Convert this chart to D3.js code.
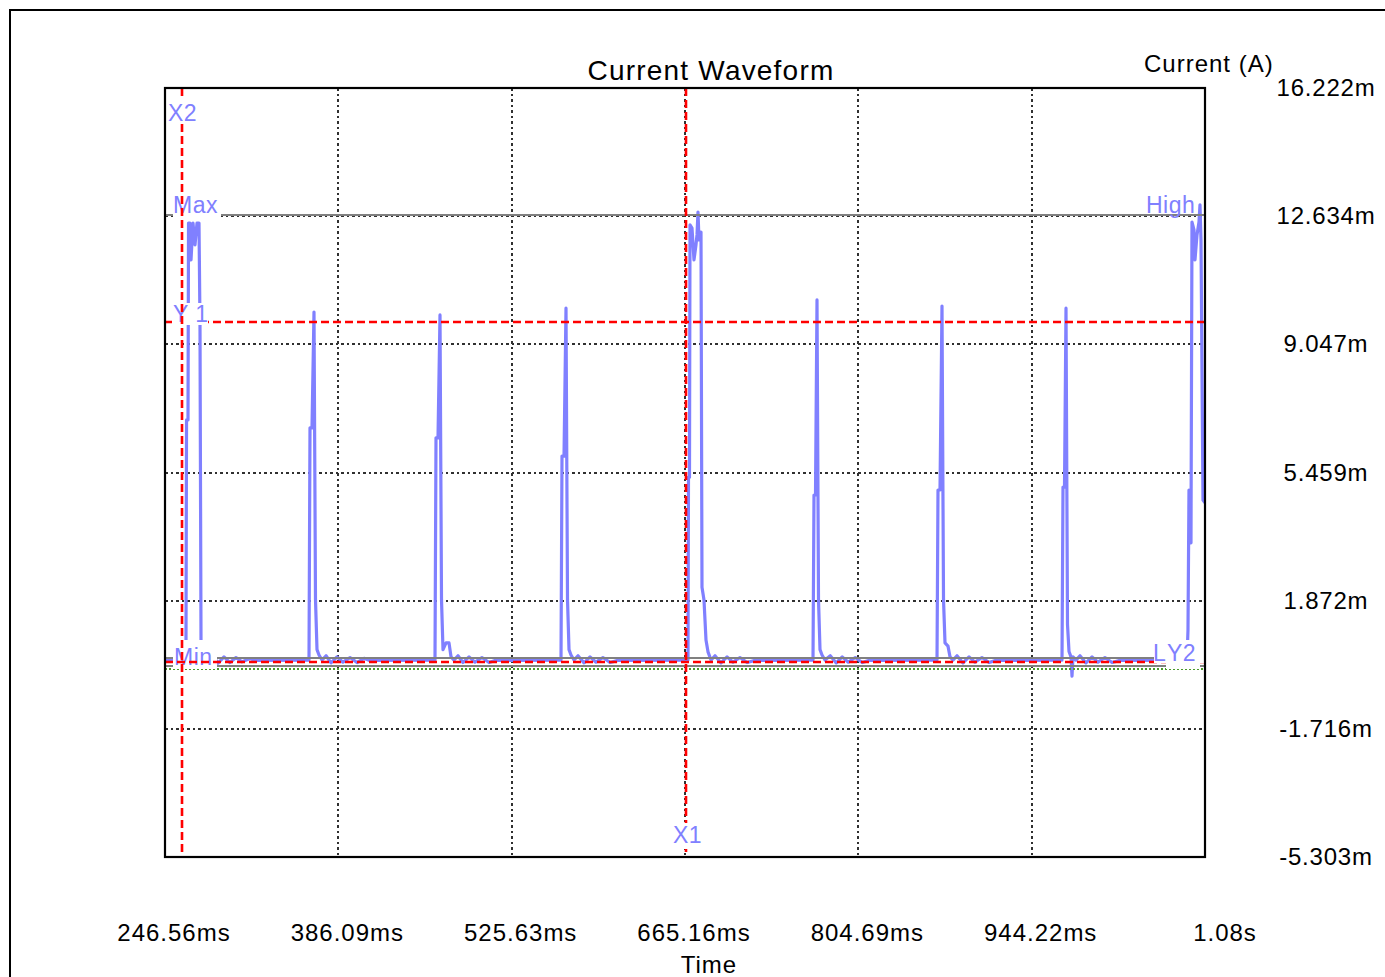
<!DOCTYPE html>
<html>
<head>
<meta charset="utf-8">
<script src="https://cdn.jsdelivr.net/npm/d3@7"></script>
<style>
  body { margin: 0; background: #fff; }
  svg { display: block; font-family: "Liberation Sans", Arial, sans-serif; }
</style>
</head>
<body>
<div id="chart"></div>
<script>
// axis ticks as the scope shows them
var xTicks = [246.56, 386.09, 525.63, 665.16, 804.69, 944.22, 1083.74];
var xTickLabels = ["246.56ms", "386.09ms", "525.63ms", "665.16ms", "804.69ms", "944.22ms", "1.08s"];
var yTicks = [16.222, 12.634, 9.047, 5.459, 1.872, -1.716, -5.303];
var yTickLabels = ["16.222m", "12.634m", "9.047m", "5.459m", "1.872m", "-1.716m", "-5.303m"];

// waveform samples: time (ms) and current (mA)
var timeMs = [
  246.56, 262.66, 263.46, 263.9, 265.07, 265.5, 266.68, 267.49, 269.10, 270.71, 272.32, 273.93, 274.73, 275.54, 277.15,
  278.76, 281.98, 285.2, 289.22, 294.05, 298.88, 303.71, 308.54, 314.98, 319.0,
  362.48, 363.28, 364.89, 366.50, 367.71, 368.92, 370.53, 372.95,
  376.2, 380.2, 385.0, 389.8, 395.5, 401.1, 406.8, 410.8,
  463.90, 464.71, 466.32, 467.93, 469.14, 470.35, 472.77, 475.18, 476.79, 479.21,
  482.4, 486.4, 491.3, 496.1, 501.7, 507.4, 512.2,
  565.33, 566.14, 567.75, 569.36, 570.57, 571.78, 573.39, 575.80,
  579.0, 583.9, 588.7, 593.5, 599.1, 604.8, 611.2,
  666.76, 667.56, 667.96, 668.77, 669.17, 670.78, 672.39, 674.0, 674.81, 675.61, 676.42, 677.22, 678.03, 678.83, 680.44, 682.05, 683.66, 686.08,
  689.3, 694.1, 699.0, 703.8, 709.4, 715.1, 721.5,
  768.19, 768.99, 770.20, 771.41, 772.62, 773.83, 775.44, 777.85,
  782.1, 786.9, 791.7, 796.6, 802.2, 807.8, 813.5,
  868.01, 868.81, 870.42, 872.03, 873.24, 874.45, 876.86, 878.47, 880.89,
  884.1, 888.9, 893.8, 898.6, 904.2, 909.9, 915.5,
  968.63, 969.43, 970.64, 971.85, 973.06, 974.27, 975.88, 976.68, 977.49, 979.90,
  983.1, 987.9, 992.8, 997.6, 1003.2, 1008.9, 1015.3,
  1069.24, 1070.05, 1070.85, 1071.66, 1072.46, 1073.27, 1074.88, 1075.68, 1077.29, 1078.90, 1079.71, 1080.51, 1082.12, 1083.74
];
var currentMa = [
  0.21, 0.21, 0.77, 6.93, 6.93, 12.44, 12.44, 11.41, 12.44, 11.83, 12.44, 12.44, 9.59, 0.77, 0.27,
  0.35, 0.15, 0.33, 0.12, 0.30, 0.14, 0.28, 0.16, 0.25, 0.20,
  0.21, 6.71, 6.71, 9.95, 1.9, 0.5, 0.35, 0.21,
  0.33, 0.13, 0.30, 0.15, 0.28, 0.14, 0.26, 0.20,
  0.21, 6.43, 6.43, 9.87, 1.9, 0.5, 0.69, 0.69, 0.30, 0.21,
  0.33, 0.14, 0.30, 0.15, 0.28, 0.14, 0.20,
  0.21, 5.92, 5.92, 10.06, 1.9, 0.5, 0.35, 0.21,
  0.33, 0.13, 0.30, 0.15, 0.28, 0.14, 0.20,
  0.21, 0.21, 5.33, 5.33, 12.39, 12.30, 11.41, 11.83, 12.11, 12.75, 11.97, 12.19, 12.19, 2.25, 1.89, 0.77, 0.44, 0.21,
  0.33, 0.13, 0.30, 0.15, 0.28, 0.14, 0.20,
  0.21, 4.83, 4.83, 10.29, 1.9, 0.5, 0.35, 0.21,
  0.33, 0.13, 0.30, 0.15, 0.28, 0.14, 0.20,
  0.21, 4.97, 4.97, 10.12, 1.9, 0.69, 0.6, 0.30, 0.21,
  0.33, 0.13, 0.30, 0.15, 0.28, 0.14, 0.20,
  0.21, 5.05, 5.05, 10.06, 1.2, 0.45, 0.30, -0.24, 0.30, 0.21,
  0.33, 0.13, 0.30, 0.15, 0.28, 0.14, 0.20,
  0.21, 1.05, 4.97, 3.49, 3.49, 12.47, 12.25, 11.41, 12.11, 12.47, 12.95, 11.97, 4.69, 4.61
];

// cursors and measurement levels
var cursorX = [{ name: "X2", t: 260.25, labelAt: "top" }, { name: "X1", t: 665.95, labelAt: "bottom" }];
var cursorY = [{ name: "Y1", v: 9.672 }, { name: "Y2", v: 0.155 }];
var levelMax = 12.667, levelHigh = 12.667, levelMin = 0.267, levelLow = 0.043, levelZero = -0.03;

var W = 1385, H = 977;
var plot = { left: 165, top: 88, right: 1205, bottom: 857 };
var blue = "#8080ff", red = "#ff0000", gray = "#808080";

var svg = d3.select("#chart").append("svg").attr("width", W).attr("height", H);

var x = d3.scaleLinear().domain([xTicks[0], xTicks[xTicks.length - 1]]).range([plot.left, plot.right]);
var y = d3.scaleLinear().domain([yTicks[yTicks.length - 1], yTicks[0]]).range([plot.bottom, plot.top]);

// outer frame
svg.append("rect").attr("x", 10).attr("y", 10).attr("width", W + 20).attr("height", H + 20)
  .attr("fill", "none").attr("stroke", "#000").attr("stroke-width", 2);

svg.append("defs").append("clipPath").attr("id", "clip").append("rect")
  .attr("x", plot.left).attr("y", plot.top)
  .attr("width", plot.right - plot.left).attr("height", plot.bottom - plot.top);

// dotted grid
var grid = svg.append("g").attr("shape-rendering", "crispEdges");
grid.selectAll(".gx").data(xTicks.slice(1, -1)).enter().append("line")
  .attr("x1", function(d) { return Math.round(x(d)); }).attr("x2", function(d) { return Math.round(x(d)); })
  .attr("y1", plot.top).attr("y2", plot.bottom)
  .attr("stroke", "#303030").attr("stroke-width", 2).attr("stroke-dasharray", "2.5,3");
grid.selectAll(".gy").data(yTicks.slice(1, -1)).enter().append("line")
  .attr("y1", function(d) { return Math.round(y(d)); }).attr("y2", function(d) { return Math.round(y(d)); })
  .attr("x1", plot.left).attr("x2", plot.right)
  .attr("stroke", "#303030").attr("stroke-width", 2).attr("stroke-dasharray", "2.5,3");

// waveform
var pts = timeMs.map(function(t, i) { return [t, currentMa[i]]; });
var line = d3.line().x(function(d) { return x(d[0]); }).y(function(d) { return y(d[1]); });
svg.append("path").datum(pts).attr("clip-path", "url(#clip)")
  .attr("d", line).attr("fill", "none").attr("stroke", blue)
  .attr("stroke-width", 3.2).attr("stroke-linejoin", "round");

// measurement levels
var hline = function(v, color, dash, w) {
  svg.append("line").attr("x1", plot.left).attr("x2", plot.right)
    .attr("y1", Math.round(y(v))).attr("y2", Math.round(y(v)))
    .attr("shape-rendering", "crispEdges")
    .attr("stroke", color).attr("stroke-width", w).attr("stroke-dasharray", dash);
};
hline(levelZero, "#4c9a2a", "2,2", 2.5);
hline(levelMax, gray, null, 2.5);
hline(levelMin, gray, null, 2.5);
hline(levelLow, gray, null, 2.5);

var label = function(txt, lx, ly, bg) {
  if (bg) {
    svg.append("rect").attr("x", bg[0]).attr("y", bg[1]).attr("width", bg[2]).attr("height", bg[3]).attr("fill", "#fff");
  }
  svg.append("text").attr("x", lx).attr("y", ly).text(txt)
    .attr("fill", blue).attr("font-size", 23).attr("letter-spacing", 0.5);
};
label("Max", 173, y(levelMax) - 2, [173, y(levelMax) - 20, 48, 23]);
label("Min", 174, y(levelMin) + 7, [173, y(levelMin) - 18, 44, 29]);
label("High", 1146, y(levelHigh) - 2, null);

// horizontal cursors
cursorY.forEach(function(c) {
  svg.append("line").attr("x1", plot.left).attr("x2", plot.right)
    .attr("y1", y(c.v)).attr("y2", y(c.v))
    .attr("stroke", red).attr("stroke-width", 2.6).attr("stroke-dasharray", "8,4");
});
label("Y 1", 173, y(cursorY[0].v), [172, y(cursorY[0].v) - 19, 36, 22]);
label("L", 1153, y(cursorY[1].v) - 1, [1154, y(cursorY[1].v) - 22, 50, 23]);
label("Y2", 1167, y(cursorY[1].v) - 1, [1166, y(cursorY[1].v) - 22, 34, 29]);

// vertical cursors
cursorX.forEach(function(c) {
  var cx = x(c.t);
  svg.append("line").attr("x1", cx).attr("x2", cx).attr("y1", plot.top).attr("y2", plot.bottom)
    .attr("stroke", red).attr("stroke-width", 2.6).attr("stroke-dasharray", "8,4");
  if (c.labelAt == "top") {
    label(c.name, cx - 14, plot.top + 33, [cx - 14, plot.top + 8, 30, 28]);
  } else {
    label(c.name, cx - 13, plot.bottom - 14, [cx - 14, plot.bottom - 34, 30, 26]);
  }
});

// plot border
svg.append("rect").attr("x", plot.left).attr("y", plot.top)
  .attr("width", plot.right - plot.left).attr("height", plot.bottom - plot.top)
  .attr("fill", "none").attr("stroke", "#000").attr("stroke-width", 2.2);

// tick labels
svg.selectAll(".xl").data(xTicks).enter().append("text")
  .attr("x", function(d, i) { return x(d) + (i === xTicks.length - 1 ? 20 : 9); })
  .attr("y", 941).attr("text-anchor", "middle")
  .attr("font-size", 24).attr("letter-spacing", 1).attr("fill", "#000")
  .text(function(d, i) { return xTickLabels[i]; });
svg.selectAll(".yl").data(yTicks).enter().append("text")
  .attr("x", 1326).attr("y", function(d) { return y(d) + 8; }).attr("text-anchor", "middle")
  .attr("font-size", 24).attr("letter-spacing", 0.8).attr("fill", "#000")
  .text(function(d, i) { return yTickLabels[i]; });

// titles
svg.append("text").attr("x", 711).attr("y", 80).attr("text-anchor", "middle")
  .attr("font-size", 28).attr("letter-spacing", 1.2).text("Current Waveform");
svg.append("text").attr("x", 1144).attr("y", 72)
  .attr("font-size", 24).attr("letter-spacing", 1).text("Current (A)");
svg.append("text").attr("x", 709).attr("y", 973).attr("text-anchor", "middle")
  .attr("font-size", 24).attr("letter-spacing", 1).text("Time");
</script>
</body>
</html>
